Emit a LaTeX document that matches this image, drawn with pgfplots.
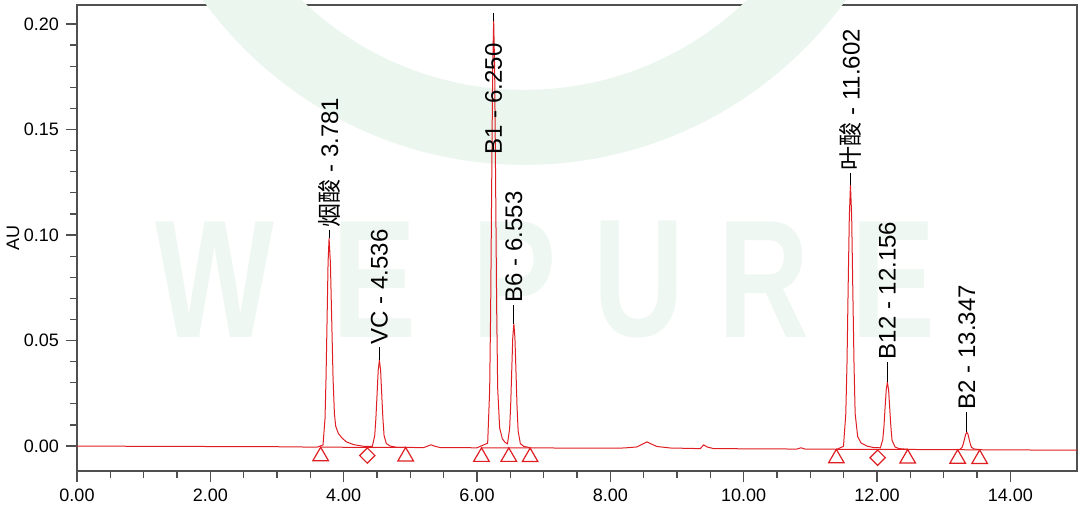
\documentclass[border=0pt]{standalone}
\usepackage{fontspec}
\setmainfont{Liberation Sans}
\newfontfamily\cjk{Noto Sans CJK SC}
\usepackage{pgfplots}
\pgfplotsset{compat=1.18}
\definecolor{sig}{RGB}{222,30,35}
\definecolor{wm}{RGB}{235,246,238}
\definecolor{wmtext}{RGB}{239,247,242}
\definecolor{axgray}{RGB}{80,80,80}
\newcommand{\lbl}{\fontsize{12bp}{14bp}\selectfont}
\newcommand{\tkf}{\fontsize{9bp}{11bp}\selectfont}
\newcommand{\wmf}{\bfseries\fontsize{84bp}{90bp}\selectfont}
\begin{document}
\begin{tikzpicture}
\useasboundingbox (-38.5bp,-18.5bp) rectangle (501.5bp,235.5bp);
\begin{axis}[
  scale only axis, width=500bp, height=233bp,
  at={(0,0)}, anchor=south west,
  xmin=0, xmax=15, ymin=-0.0118, ymax=0.209,
  axis line style={axgray, line width=0.8bp},
  every tick/.style={axgray, line width=0.6bp},
  xtick={0,2,4,6,8,10,12,14}, minor x tick num=3,
  ytick={0,0.05,0.1,0.15,0.2}, minor y tick num=4,
  tick align=outside, xtick pos=lower, ytick pos=left,
  major tick length=5.5bp, minor tick length=3.5bp,
  scaled y ticks=false, scaled x ticks=false,
  xticklabel style={font=\tkf, /pgf/number format/.cd, fixed, fixed zerofill, precision=2, assume math mode=true},
  yticklabel style={font=\tkf, /pgf/number format/.cd, fixed, fixed zerofill, precision=2, assume math mode=true},
  ylabel={AU},
  ylabel style={font=\tkf, at={(axis description cs:-0.064,0.5)}, anchor=center},
  clip=false,
]
% faint watermark
\fill[wm, even odd rule] (axis cs:6.71,0.3209) circle[radius=198bp] (axis cs:6.71,0.3209) circle[radius=160.5bp];
\node[wmtext, font=\wmf, xscale=0.75] at (axis cs:2.07,0.0787) {W};
\node[wmtext, font=\wmf, xscale=0.75] at (axis cs:4.46,0.0787) {E};
\node[wmtext, font=\wmf, xscale=0.75] at (axis cs:6.56,0.0787) {P};
\node[wmtext, font=\wmf, xscale=0.75] at (axis cs:8.43,0.0787) {U};
\node[wmtext, font=\wmf, xscale=0.75] at (axis cs:10.31,0.0787) {R};
\node[wmtext, font=\wmf, xscale=0.75] at (axis cs:12.25,0.0787) {E};
% signal
\addplot[sig, line width=0.5bp] coordinates {
(0,0) (1,-0.0001) (2,-0.0002) (3,-0.0003) (3.6,-0.0005)
(3.69,0.0005) (3.72,0.0129) (3.735,0.0315) (3.751,0.0595) (3.766,0.0869) (3.781,0.0985)
(3.801,0.0869) (3.821,0.0595) (3.841,0.032) (3.861,0.0155) (3.88,0.0095) (3.92,0.006)
(3.97,0.004) (4.04,0.002) (4.15,0.0007) (4.3,-0.0001)
(4.43,-0.0001) (4.466,0.005) (4.483,0.0129) (4.501,0.0245) (4.518,0.0359) (4.536,0.0408)
(4.554,0.0359) (4.571,0.0245) (4.589,0.0129) (4.606,0.005) (4.64,0.0012) (4.7,0.0)
(4.8,-0.0006) (5.2,-0.0007) (5.26,0.0) (5.31,0.0006) (5.37,-0.0001) (5.45,-0.0007)
(6.0,-0.0008) (6.16,0.0014) (6.19,0.0266) (6.205,0.0651) (6.22,0.1223) (6.235,0.1782) (6.25,0.202)
(6.265,0.1782) (6.28,0.1223) (6.295,0.0655) (6.31,0.0275) (6.34,0.0085) (6.38,0.0035) (6.42,0.0018)
(6.457,0.0011) (6.489,0.0081) (6.505,0.0191) (6.521,0.0357) (6.537,0.0518) (6.553,0.058)
(6.569,0.0512) (6.585,0.035) (6.601,0.0183) (6.617,0.0072) (6.65,0.0012) (6.7,-0.0001)
(6.8,-0.0008) (7.5,-0.001) (8.2,-0.0009) (8.4,-0.0004) (8.5,0.0012) (8.55,0.002) (8.6,0.0012)
(8.7,-0.0002) (8.9,-0.0009) (9.35,-0.0012) (9.4,0.0006) (9.45,-0.0004) (9.55,-0.0012)
(10.8,-0.0014) (10.86,-0.0008) (10.92,-0.0014) (11.4,-0.0015)
(11.497,-0.0001) (11.532,0.0154) (11.55,0.0392) (11.567,0.0745) (11.585,0.109) (11.602,0.1237)
(11.62,0.109) (11.637,0.0745) (11.655,0.0392) (11.672,0.0155) (11.71,0.0045) (11.76,0.0015)
(11.85,0.0) (11.95,-0.0007)
(12.051,-0.0008) (12.086,0.003) (12.104,0.0091) (12.121,0.0181) (12.139,0.0268) (12.156,0.0303)
(12.174,0.0266) (12.191,0.0178) (12.209,0.0088) (12.226,0.0027) (12.27,-0.0004) (12.33,-0.0012)
(12.5,-0.0016) (13.2,-0.0017) (13.24,-0.0016) (13.277,-0.0006) (13.294,0.001) (13.312,0.0033)
(13.33,0.0056) (13.347,0.0066) (13.365,0.0056) (13.382,0.0033) (13.4,0.001) (13.417,-0.0006)
(13.46,-0.0014) (13.6,-0.0018) (15,-0.0019)
};
% integration baselines
\addplot[sig, line width=0.5bp] coordinates {(3.655,-0.0005) (4.355,-0.0006) (4.93,-0.0006)};
\addplot[sig, line width=0.5bp] coordinates {(6.067,-0.0008) (6.477,-0.0008) (6.797,-0.0009)};
\addplot[sig, line width=0.5bp] coordinates {(11.39,-0.0015) (12.01,-0.0016) (12.46,-0.0016)};
\addplot[sig, line width=0.5bp] coordinates {(13.21,-0.0017) (13.54,-0.0018)};
% peak start/end markers
\addplot[only marks, mark=triangle, mark size=4.5bp, mark options={sig, line width=0.6bp, fill=none}] coordinates {
(3.655,-0.0048) (4.93,-0.0049) (6.067,-0.0051) (6.477,-0.0051) (6.797,-0.0052)
(11.39,-0.0058) (12.46,-0.0059) (13.21,-0.006) (13.54,-0.0061)};
\addplot[only marks, mark=square, mark size=2.7bp, mark options={sig, line width=0.6bp, fill=none, rotate=45}] coordinates {
(4.355,-0.0045) (12.01,-0.0055)};
% label leader lines
\addplot[black, line width=0.5bp] coordinates {(3.781,0.0985) (3.781,0.1024)};
\addplot[black, line width=0.5bp] coordinates {(4.536,0.0408) (4.536,0.0469)};
\addplot[black, line width=0.5bp] coordinates {(6.25,0.2015) (6.25,0.2052)};
\addplot[black, line width=0.5bp] coordinates {(6.553,0.058) (6.553,0.0668)};
\addplot[black, line width=0.5bp] coordinates {(11.602,0.1237) (11.602,0.1294)};
\addplot[black, line width=0.5bp] coordinates {(12.156,0.0303) (12.156,0.0398)};
\addplot[black, line width=0.5bp] coordinates {(13.347,0.0066) (13.347,0.0161)};
% labels
\node[rotate=90, anchor=west, inner sep=1.2bp, font=\lbl] at (axis cs:3.781,0.1024) {{\cjk 烟酸} - 3.781};
\node[rotate=90, anchor=west, inner sep=1.2bp, font=\lbl] at (axis cs:4.536,0.0469) {VC - 4.536};
\node[rotate=90, anchor=west, inner sep=1.2bp, font=\lbl] at (axis cs:6.25,0.137) {B1 - 6.250};
\node[rotate=90, anchor=west, inner sep=1.2bp, font=\lbl] at (axis cs:6.553,0.0668) {B6 - 6.553};
\node[rotate=90, anchor=west, inner sep=1.2bp, font=\lbl] at (axis cs:11.602,0.1294) {{\cjk 叶酸} - 11.602};
\node[rotate=90, anchor=west, inner sep=1.2bp, font=\lbl] at (axis cs:12.156,0.0398) {B12 - 12.156};
\node[rotate=90, anchor=west, inner sep=1.2bp, font=\lbl] at (axis cs:13.347,0.0161) {B2 - 13.347};
\end{axis}
\end{tikzpicture}
\end{document}
